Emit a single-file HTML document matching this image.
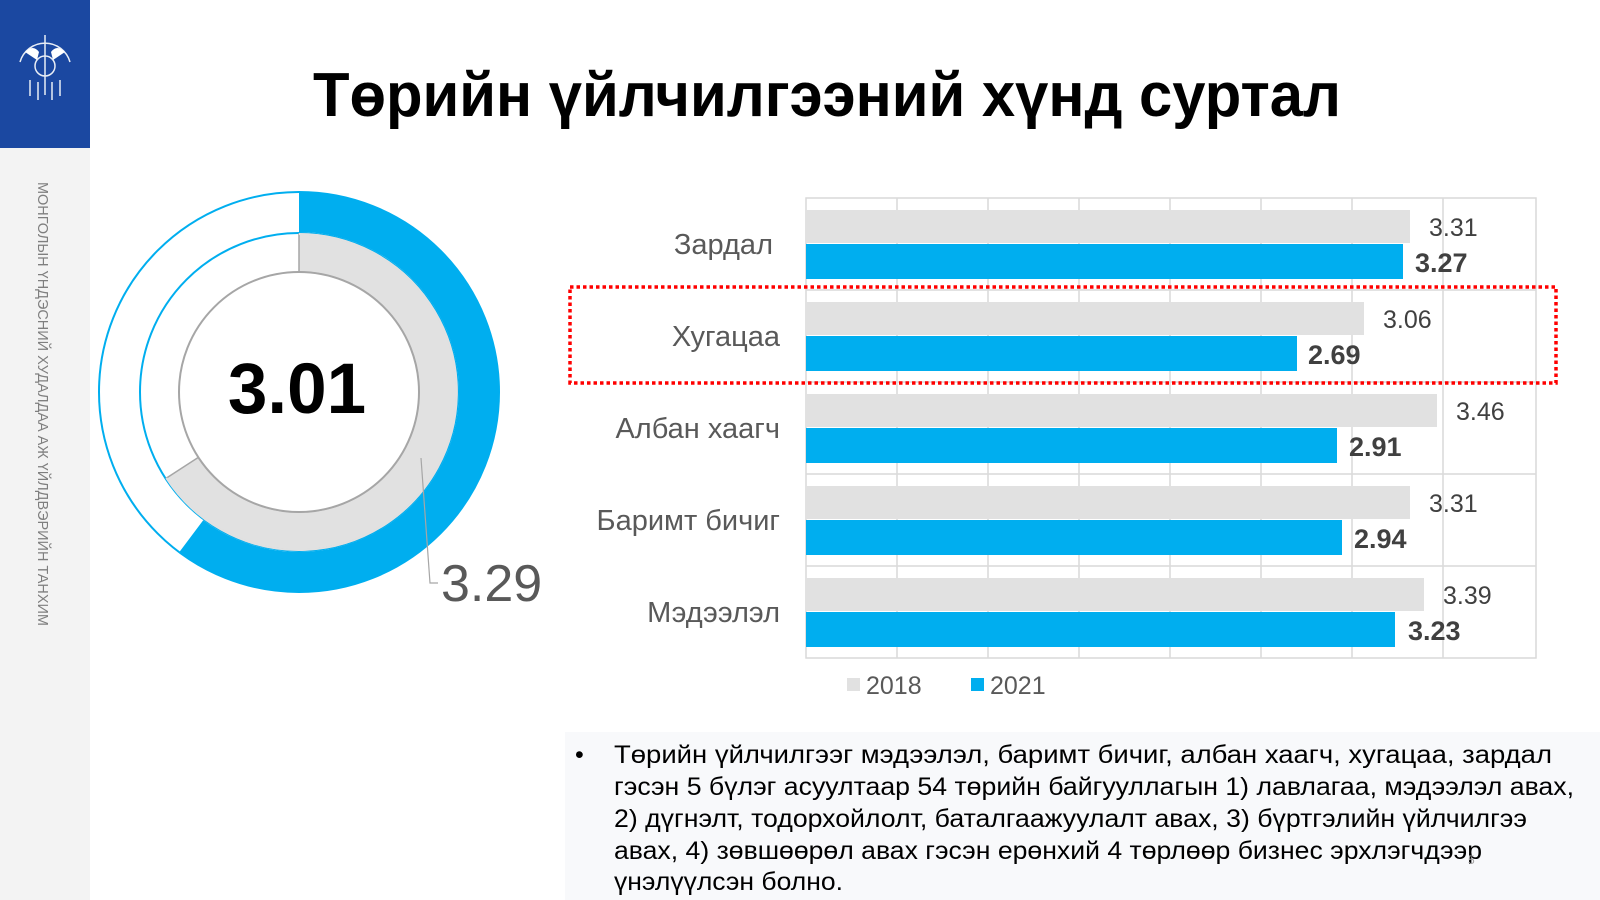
<!DOCTYPE html>
<html><head><meta charset="utf-8"><style>
html,body{margin:0;padding:0;background:#fff}
svg{display:block}
text{font-family:"Liberation Sans",Arial,sans-serif}
</style></head><body>
<svg width="1600" height="900" viewBox="0 0 1600 900" xmlns="http://www.w3.org/2000/svg">
<rect x="0" y="0" width="1600" height="900" fill="#fff"/>
<rect x="0" y="148" width="90" height="752" fill="#f3f3f3"/>
<rect x="0" y="0" width="90" height="148" fill="#1b48a1"/>
<g fill="none" stroke="#fff" stroke-width="1.5" opacity="0.9">
<path d="M20 62 A26 26 0 0 1 70 62"/>
<circle cx="45" cy="66" r="10"/>
<line x1="45" y1="35" x2="45" y2="95"/>
<line x1="30" y1="80" x2="30" y2="96"/><line x1="38" y1="82" x2="38" y2="100"/><line x1="52" y1="82" x2="52" y2="100"/><line x1="60" y1="80" x2="60" y2="96"/>
</g>
<path d="M25 52 q8 -8 14 0 l-2 8 z M65 52 q-8 -8 -14 0 l2 8 z" fill="#fff"/>
<text transform="translate(38,182) rotate(90)" font-size="15" fill="#7f7f7f" textLength="444" lengthAdjust="spacingAndGlyphs">МОНГОЛЫН ҮНДЭСНИЙ ХУДАЛДАА АЖ ҮЙЛДВЭРИЙН ТАНХИМ</text>
<text x="827" y="116" font-size="62" font-weight="bold" fill="#000" text-anchor="middle" textLength="1028" lengthAdjust="spacingAndGlyphs">Төрийн үйлчилгээний хүнд суртал</text>
<circle cx="299" cy="392" r="200" fill="none" stroke="#00aeef" stroke-width="2"/>
<circle cx="299" cy="392" r="159" fill="none" stroke="#00aeef" stroke-width="2"/>
<path d="M299 192 A200 200 0 1 1 179.2 552.2 L203.2 520.2 A160 160 0 1 0 299 232 Z" fill="#00aeef"/>
<path d="M299 234 A158 158 0 1 1 166.4 478.1 L198.3 457.4 A120 120 0 1 0 299 272 Z" fill="#e1e1e1" stroke="#a6a6a6" stroke-width="1.5"/>
<path d="M299 234 A158 158 0 1 1 166.4 478.1" fill="none" stroke="#e1e1e1" stroke-width="2"/>
<circle cx="299" cy="392" r="120" fill="#fff" stroke="#a6a6a6" stroke-width="2"/>
<text x="297" y="413" font-size="71" font-weight="bold" fill="#000" text-anchor="middle">3.01</text>
<polyline points="421,458 430,583 438,583" fill="none" stroke="#a6a6a6" stroke-width="1.2"/>
<text x="441" y="601" font-size="52" fill="#595959">3.29</text>
<g stroke="#d9d9d9" stroke-width="1.5" fill="none">
<rect x="806" y="198" width="730" height="460"/>
<line x1="897" y1="198" x2="897" y2="658"/><line x1="988" y1="198" x2="988" y2="658"/>
<line x1="1079" y1="198" x2="1079" y2="658"/><line x1="1170" y1="198" x2="1170" y2="658"/>
<line x1="1261" y1="198" x2="1261" y2="658"/><line x1="1352" y1="198" x2="1352" y2="658"/>
<line x1="1443" y1="198" x2="1443" y2="658"/>
<line x1="806" y1="290" x2="1536" y2="290"/><line x1="806" y1="382" x2="1536" y2="382"/>
<line x1="806" y1="474" x2="1536" y2="474"/><line x1="806" y1="566" x2="1536" y2="566"/>
</g>
<g fill="#e1e1e1">
<rect x="806" y="210" width="604" height="33"/>
<rect x="806" y="302" width="558" height="33"/>
<rect x="806" y="394" width="631" height="33"/>
<rect x="806" y="486" width="604" height="33"/>
<rect x="806" y="578" width="618" height="33"/>
</g>
<g fill="#00aeef">
<rect x="806" y="244" width="597" height="35"/>
<rect x="806" y="336" width="491" height="35"/>
<rect x="806" y="428" width="531" height="35"/>
<rect x="806" y="520" width="536" height="35"/>
<rect x="806" y="612" width="589" height="35"/>
</g>
<g font-size="25" fill="#404040">
<text x="1429" y="236">3.31</text>
<text x="1383" y="328">3.06</text>
<text x="1456" y="420">3.46</text>
<text x="1429" y="512">3.31</text>
<text x="1443" y="604">3.39</text>
</g>
<g font-size="27" font-weight="bold" fill="#404040">
<text x="1415" y="272">3.27</text>
<text x="1308" y="364">2.69</text>
<text x="1349" y="456">2.91</text>
<text x="1354" y="548">2.94</text>
<text x="1408" y="640">3.23</text>
</g>
<g font-size="29" fill="#595959" text-anchor="end">
<text x="773" y="254">Зардал</text>
<text x="780" y="346">Хугацаа</text>
<text x="780" y="438">Албан хаагч</text>
<text x="780" y="530">Баримт бичиг</text>
<text x="780" y="622">Мэдээлэл</text>
</g>
<rect x="570" y="287" width="986" height="96" fill="none" stroke="#ff0000" stroke-width="3.5" stroke-dasharray="3.5,3"/>
<rect x="847" y="678" width="13" height="13" fill="#e1e1e1"/>
<text x="866" y="694" font-size="25" fill="#595959">2018</text>
<rect x="971" y="678" width="13" height="13" fill="#00aeef"/>
<text x="990" y="694" font-size="25" fill="#595959">2021</text>
<rect x="565" y="732" width="1035" height="168" fill="#f8f9fb"/>
<g font-size="25" fill="#000">
<text x="575" y="763">•</text>
<text x="614" y="763" textLength="938" lengthAdjust="spacingAndGlyphs">Төрийн үйлчилгээг мэдээлэл, баримт бичиг, албан хаагч, хугацаа, зардал</text>
<text x="614" y="795" textLength="960" lengthAdjust="spacingAndGlyphs">гэсэн 5 бүлэг асуултаар 54 төрийн байгууллагын 1) лавлагаа, мэдээлэл авах,</text>
<text x="614" y="827" textLength="913" lengthAdjust="spacingAndGlyphs">2) дүгнэлт, тодорхойлолт, баталгаажуулалт авах, 3) бүртгэлийн үйлчилгээ</text>
<text x="614" y="859" textLength="868" lengthAdjust="spacingAndGlyphs">авах, 4) зөвшөөрөл авах гэсэн ерөнхий 4 төрлөөр бизнес эрхлэгчдээр</text>
<text x="614" y="890" textLength="229" lengthAdjust="spacingAndGlyphs">үнэлүүлсэн болно.</text>
</g>
<text x="1468" y="864" font-size="12" fill="#a6a6a6">5</text>
</svg>
</body></html>
